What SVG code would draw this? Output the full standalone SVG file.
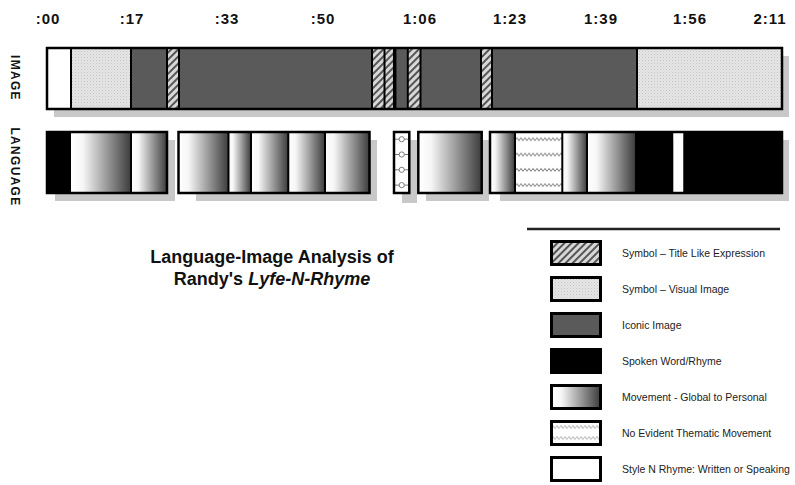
<svg xmlns="http://www.w3.org/2000/svg" width="795" height="485" viewBox="0 0 795 485">
<style>
.ax{font-family:"Liberation Sans",Arial,sans-serif;font-weight:bold;font-size:15px;letter-spacing:1px;fill:#111;text-anchor:middle}
.side{font-family:"Liberation Sans",Arial,sans-serif;font-weight:bold;font-size:12px;letter-spacing:1.3px;fill:#111;text-anchor:middle}
.title{font-family:"Liberation Sans",Arial,sans-serif;font-weight:bold;font-size:18px;fill:#111;text-anchor:middle}
.lg{font-family:"Liberation Sans",Arial,sans-serif;font-size:10.5px;fill:#222}
.frame{fill:none;stroke:#000;stroke-width:2.5}
.sw{stroke:#000;stroke-width:3}
.shadow{fill:#c8c8c8}
.div{stroke:#000;stroke-width:2}
.dark{fill:#5a5a5a}
</style>
<defs>
<linearGradient id="grad" x1="0" y1="0" x2="1" y2="0">
<stop offset="0" stop-color="#ffffff"/>
<stop offset="0.2" stop-color="#f6f6f6"/>
<stop offset="1" stop-color="#3c3c3c"/>
</linearGradient>
<pattern id="dots" width="3" height="3" patternUnits="userSpaceOnUse">
<rect width="3" height="3" fill="#e6e6e6"/>
<rect width="1" height="1" fill="#c4c4c4"/>
<rect x="1.5" y="1.5" width="1" height="1" fill="#cfcfcf"/>
</pattern>
<pattern id="hatch" width="5" height="5" patternUnits="userSpaceOnUse" patternTransform="rotate(45)">
<rect width="5" height="5" fill="#d8d8d8"/>
<rect width="2" height="5" fill="#555"/>
</pattern>
<pattern id="wave" x="0" y="131.7" width="4" height="15.3" patternUnits="userSpaceOnUse">
<rect width="4" height="15.3" fill="#fff"/>
<path d="M0,7.5 L1,6.3 L2,7.5 L3,8.7 L4,7.5" fill="none" stroke="#8a8a8a" stroke-width="1"/>
</pattern>
<pattern id="wave2" x="0" y="421.5" width="4" height="11" patternUnits="userSpaceOnUse">
<rect width="4" height="11" fill="#fff"/>
<path d="M0,5.5 L1,4.3 L2,5.5 L3,6.7 L4,5.5" fill="none" stroke="#8a8a8a" stroke-width="1"/>
</pattern>
</defs>
<rect width="795" height="485" fill="#fff"/>

<g id="axis">
<text class="ax" x="48" y="24">:00</text>
<text class="ax" x="132" y="24">:17</text>
<text class="ax" x="227" y="24">:33</text>
<text class="ax" x="323" y="24">:50</text>
<text class="ax" x="420" y="24">1:06</text>
<text class="ax" x="510" y="24">1:23</text>
<text class="ax" x="601" y="24">1:39</text>
<text class="ax" x="690" y="24">1:56</text>
<text class="ax" x="770" y="24">2:11</text>
</g>

<g id="side-labels">
<text class="side" transform="translate(11,78) rotate(90)">IMAGE</text>
<text class="side" transform="translate(11,167) rotate(90)">LANGUAGE</text>
</g>

<g id="image-bar">
<rect class="shadow" x="54" y="56" width="735" height="61"/>
<rect x="47" y="48" width="24" height="61" fill="#fff"/>
<rect x="71" y="48" width="60" height="61" fill="url(#dots)"/>
<rect class="dark" x="131" y="48" width="36" height="61"/>
<rect x="167" y="48" width="12" height="61" fill="url(#hatch)"/>
<rect class="dark" x="179" y="48" width="193" height="61"/>
<rect x="372" y="48" width="12" height="61" fill="url(#hatch)"/>
<rect x="384" y="48" width="10" height="61" fill="url(#hatch)"/>
<rect class="dark" x="394" y="48" width="14" height="61"/>
<rect x="408" y="48" width="12" height="61" fill="url(#hatch)"/>
<rect class="dark" x="420" y="48" width="61" height="61"/>
<rect x="481" y="48" width="11" height="61" fill="url(#hatch)"/>
<rect class="dark" x="492" y="48" width="145" height="61"/>
<rect x="637" y="48" width="145" height="61" fill="url(#dots)"/>
<g class="div">
<line x1="71" y1="48" x2="71" y2="109"/>
<line x1="131" y1="48" x2="131" y2="109"/>
<line x1="167" y1="48" x2="167" y2="109"/>
<line x1="179" y1="48" x2="179" y2="109"/>
<line x1="372" y1="48" x2="372" y2="109"/>
<line x1="384.5" y1="48" x2="384.5" y2="109"/>
<line x1="394.7" y1="48" x2="394.7" y2="109" stroke-width="3.5"/>
<line x1="407.8" y1="48" x2="407.8" y2="109"/>
<line x1="420.5" y1="48" x2="420.5" y2="109"/>
<line x1="481" y1="48" x2="481" y2="109"/>
<line x1="492" y1="48" x2="492" y2="109"/>
<line x1="637" y1="48" x2="637" y2="109"/>
</g>
<rect class="frame" x="47" y="48" width="735" height="61"/>
</g>

<g id="language-bar">
<g id="lang-1">
<rect class="shadow" x="55" y="140" width="120" height="61"/>
<rect x="47" y="132" width="24" height="61" fill="#000"/>
<rect x="71" y="132" width="60" height="61" fill="url(#grad)"/>
<rect x="131" y="132" width="36" height="61" fill="url(#grad)"/>
<line class="div" x1="131" y1="132" x2="131" y2="193"/>
<rect class="frame" x="47" y="132" width="120" height="61"/>
</g>
<g id="lang-2">
<rect class="shadow" x="196" y="140" width="181" height="61"/>
<rect x="178.5" y="132" width="50" height="61" fill="url(#grad)"/>
<rect x="228.5" y="132" width="22.5" height="61" fill="url(#grad)"/>
<rect x="251" y="132" width="37.3" height="61" fill="url(#grad)"/>
<rect x="288.3" y="132" width="36.7" height="61" fill="url(#grad)"/>
<rect x="325" y="132" width="44.5" height="61" fill="url(#grad)"/>
<g class="div">
<line x1="228.5" y1="132" x2="228.5" y2="193"/>
<line x1="251" y1="132" x2="251" y2="193"/>
<line x1="288.3" y1="132" x2="288.3" y2="193"/>
<line x1="325" y1="132" x2="325" y2="193"/>
</g>
<rect class="frame" x="178.5" y="132" width="191" height="61"/>
</g>
<g id="lang-3">
<rect class="shadow" x="402" y="140" width="15" height="63"/>
<rect x="394" y="132" width="15.3" height="61" fill="#fff"/>
<g fill="none" stroke="#7a7a7a" stroke-width="1">
<line x1="395" y1="139.2" x2="408.3" y2="139.2"/>
<line x1="395" y1="154.5" x2="408.3" y2="154.5"/>
<line x1="395" y1="169.8" x2="408.3" y2="169.8"/>
<line x1="395" y1="185.1" x2="408.3" y2="185.1"/>
<circle cx="401.7" cy="139.2" r="2.6" fill="#fff"/>
<circle cx="401.7" cy="154.5" r="2.6" fill="#fff"/>
<circle cx="401.7" cy="169.8" r="2.6" fill="#fff"/>
<circle cx="401.7" cy="185.1" r="2.6" fill="#fff"/>
</g>
<rect class="frame" x="394" y="132" width="15.3" height="61"/>
</g>
<g id="lang-4">
<rect class="shadow" x="426" y="140" width="63" height="61"/>
<rect x="418.3" y="132" width="63.4" height="61" fill="url(#grad)"/>
<rect class="frame" x="418.3" y="132" width="63.4" height="61"/>
</g>
<g id="lang-5">
<rect class="shadow" x="500" y="140" width="289" height="61"/>
<rect x="490" y="132" width="25" height="61" fill="url(#grad)"/>
<rect x="515" y="132" width="47.3" height="61" fill="url(#wave)"/>
<rect x="562.3" y="132" width="24.7" height="61" fill="url(#grad)"/>
<rect x="587" y="132" width="48.5" height="61" fill="url(#grad)"/>
<rect x="635" y="132" width="38.5" height="61" fill="#000"/>
<rect x="673.5" y="132" width="9.8" height="61" fill="#fff"/>
<rect x="683.3" y="132" width="98.7" height="61" fill="#000"/>
<g class="div">
<line x1="515" y1="132" x2="515" y2="193"/>
<line x1="562.3" y1="132" x2="562.3" y2="193"/>
<line x1="587" y1="132" x2="587" y2="193"/>
</g>
<rect class="frame" x="490" y="132" width="292" height="61"/>
</g>
</g>

<g id="title">
<text class="title" x="272" y="263">Language-Image Analysis of</text>
<text class="title" x="272" y="285">Randy's <tspan font-style="italic">Lyfe-N-Rhyme</tspan></text>
</g>

<g id="legend">
<line x1="527" y1="229" x2="780" y2="229" stroke="#222" stroke-width="2.5"/>
<g id="legend-1">
<rect class="sw" x="551.5" y="241.5" width="49" height="23" fill="url(#hatch)"/>
<text class="lg" x="622" y="257">Symbol – Title Like Expression</text>
</g>
<g id="legend-2">
<rect class="sw" x="551.5" y="277.5" width="49" height="23" fill="url(#dots)"/>
<text class="lg" x="622" y="293">Symbol – Visual Image</text>
</g>
<g id="legend-3">
<rect class="sw dark" x="551.5" y="313.5" width="49" height="23"/>
<text class="lg" x="622" y="329">Iconic Image</text>
</g>
<g id="legend-4">
<rect class="sw" x="551.5" y="349.5" width="49" height="23" fill="#000"/>
<text class="lg" x="622" y="365">Spoken Word/Rhyme</text>
</g>
<g id="legend-5">
<rect class="sw" x="551.5" y="385.5" width="49" height="23" fill="url(#grad)"/>
<text class="lg" x="622" y="401">Movement - Global to Personal</text>
</g>
<g id="legend-6">
<rect class="sw" x="551.5" y="421.5" width="49" height="23" fill="url(#wave2)"/>
<text class="lg" x="622" y="437">No Evident Thematic Movement</text>
</g>
<g id="legend-7">
<rect class="sw" x="551.5" y="457.5" width="49" height="23" fill="#fff"/>
<text class="lg" x="622" y="473">Style N Rhyme: Written or Speaking</text>
</g>
</g>
</svg>
